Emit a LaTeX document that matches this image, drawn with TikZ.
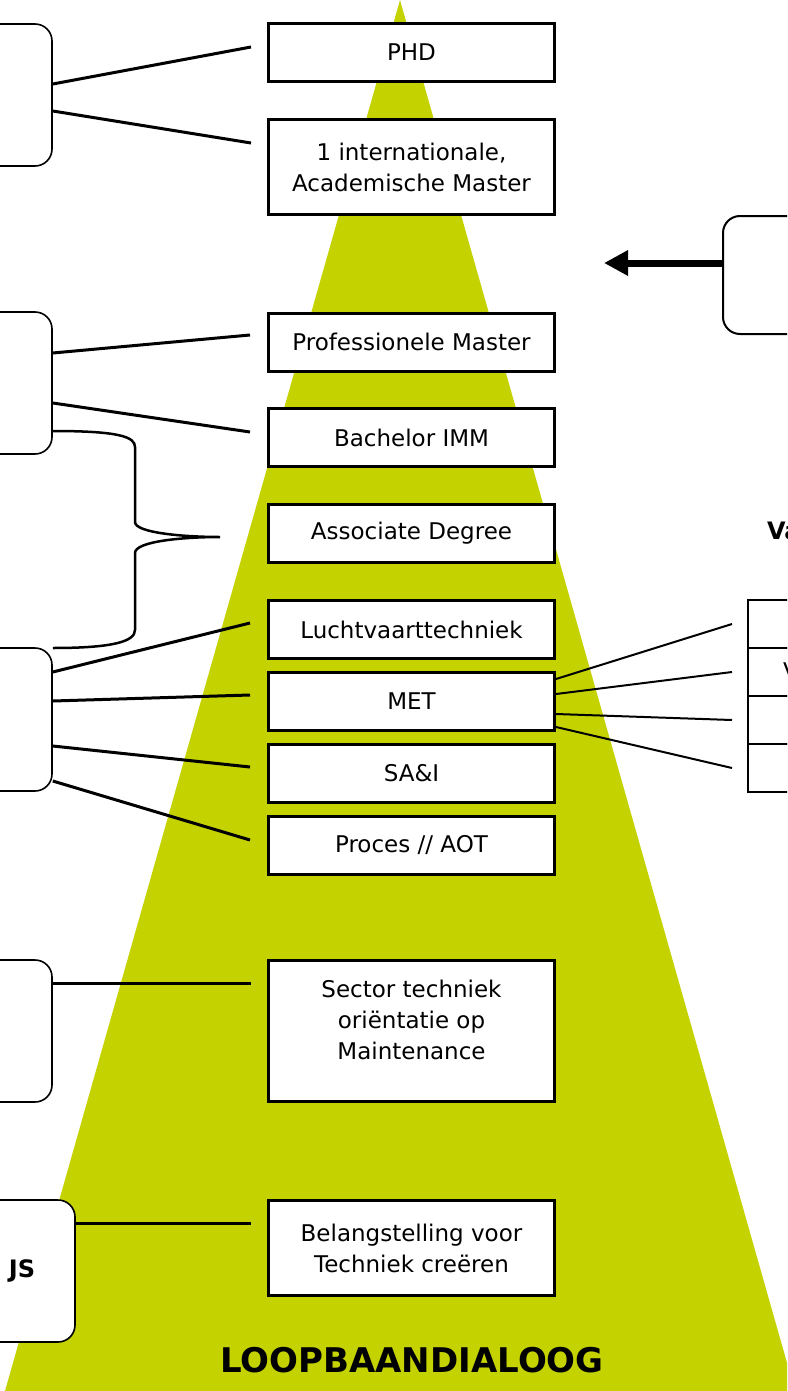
\documentclass[tikz,border=0pt]{standalone}
\usepackage{fontspec}
\setmainfont{DejaVu Sans}
\usepackage{tikz}
\usetikzlibrary{arrows.meta, positioning, calc}
\definecolor{pyrgreen}{RGB}{196,210,0}

\begin{document}
\begin{tikzpicture}[x=1pt, y=-1pt,
    lvl/.style={draw, line width=3pt, fill=white, minimum width=286pt, minimum height=58pt,
                align=center, inner sep=2pt, font=\fontsize{23}{31}\selectfont},
    side/.style={draw, line width=1.6pt, fill=white, rounded corners=17pt,
                 minimum width=152pt, minimum height=142pt},
    cell/.style={draw, line width=2pt, minimum width=200pt, minimum height=48pt, anchor=north west},
    link/.style={line width=3pt},
    thinlink/.style={line width=2pt}]
    \useasboundingbox (0,0) rectangle (787,1391);
    \clip (0,0) rectangle (787,1391);
    % piramide
    \fill[pyrgreen] (400,0) -- (795,1391) -- (5,1391) -- cycle;
    \node[font=\bfseries\fontsize{34}{40}\selectfont] (title) at (412,1360) {LOOPBAANDIALOOG};
    % niveaus
    \node[lvl] (phd) at (411.5,52.5) {PHD};
    \node[lvl, minimum height=95pt] (acad) at (411.5,167) {1 internationale,\\Academische Master};
    \node[lvl] (prof) at (411.5,342) {Professionele Master};
    \node[lvl] (bach) at (411.5,437.5) {Bachelor IMM};
    \node[lvl] (assoc) at (411.5,533.5) {Associate Degree};
    \node[lvl] (lucht) at (411.5,629.5) {Luchtvaarttechniek};
    \node[lvl] (met) at (411.5,701.5) {MET};
    \node[lvl] (sai) at (411.5,773) {SA\&I};
    \node[lvl] (proces) at (411.5,845.5) {Proces // AOT};
    \node[lvl, minimum height=141pt] (sector) at (411.5,1031)
        {Sector techniek\\oriëntatie op\\Maintenance\\[-8pt]\mbox{}};
    \node[lvl, minimum height=95pt] (belang) at (411.5,1248) {Belangstelling voor\\Techniek creëren};
    % linker kaders
    \node[side] (lb1) at (-24,95) {};
    \node[side] (lb2) at (-24,383) {};
    \node[side, minimum height=143pt] (lb3) at (-24,719.5) {};
    \node[side] (lb4) at (-24,1031) {};
    \node[side, minimum width=106pt, font=\bfseries\fontsize{24}{28}\selectfont] (lb5) at (22,1271) {JS};
    \draw[link] ([yshift=11pt]lb1.east) -- ([xshift=-16pt,yshift=5.5pt]phd.west);
    \draw[link] ([yshift=-16pt]lb1.east) -- ([xshift=-16pt,yshift=24pt]acad.west);
    \draw[link] ([yshift=30pt]lb2.east) -- ([xshift=-17pt,yshift=7pt]prof.west);
    \draw[link] ([yshift=-20pt]lb2.east) -- ([xshift=-17pt,yshift=5.5pt]bach.west);
    \draw[link] ([yshift=47.5pt]lb3.east) -- ([xshift=-17pt,yshift=6.5pt]lucht.west);
    \draw[link] ([yshift=18.5pt]lb3.east) -- ([xshift=-17pt,yshift=6.5pt]met.west);
    \draw[link] ([yshift=-26.5pt]lb3.east) -- ([xshift=-17pt,yshift=6pt]sai.west);
    \draw[link] ([yshift=-61.5pt]lb3.east) -- ([xshift=-17pt,yshift=5.5pt]proces.west);
    \draw[link] ([yshift=48pt]lb4.east) -- ([xshift=-16pt,yshift=48pt]sector.west);
    \draw[link] ([yshift=48pt]lb5.east) -- ([xshift=-16pt,yshift=25pt]belang.west);
    % accolade
    \coordinate (bracetip) at (220,537);
    \draw[line width=2.5pt] ([yshift=-48pt]lb2.east) .. controls (120,431) and (135,437) .. (135,447)
        -- (135,522) .. controls (135,533) and (185,537) .. (bracetip)
        .. controls (185,537) and (135,541) .. (135,553)
        -- (135,630) .. controls (135,641) and (115,648) .. ([yshift=71.5pt]lb3.east);
    % rechts
    \node[side, line width=2pt, minimum width=200pt, minimum height=118pt] (rb) at (823,275) {};
    \coordinate (arrowtip) at (604,263);
    \draw[line width=7pt, -{Triangle[length=24pt,width=24pt]}] ([yshift=12pt]rb.west) -- (arrowtip);
    \node[anchor=west, inner sep=0pt, font=\bfseries\fontsize{24}{28}\selectfont] (vhead) at (767,531) {Va};
    \node[cell] (tr1) at (747,599) {};
    \node[cell] (tr2) at (747,647) {};
    \node[cell] (tr3) at (747,695) {};
    \node[cell] (tr4) at (747,743) {};
    \node[anchor=west, inner sep=0pt, font=\fontsize{23}{28}\selectfont] (vcell) at (783,671) {V};
    \draw[thinlink] ([yshift=22.5pt]met.east) -- ([xshift=-15pt]tr1.west);
    \draw[thinlink] ([yshift=7.5pt]met.east) -- ([xshift=-15pt]tr2.west);
    \draw[thinlink] ([yshift=-12.5pt]met.east) -- ([xshift=-15pt]tr3.west);
    \draw[thinlink] ([yshift=-25.5pt]met.east) -- ([xshift=-15pt]tr4.west);
\end{tikzpicture}
\end{document}
